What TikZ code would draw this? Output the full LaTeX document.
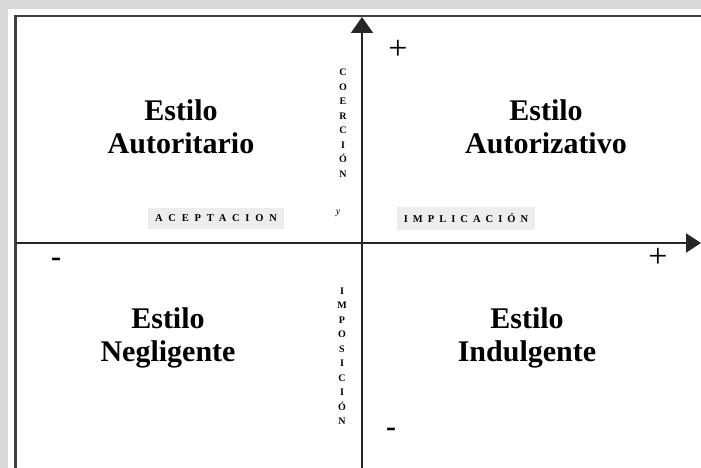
\documentclass[tikz,border=0pt]{standalone}
\usepackage{fontspec}
\setmainfont{Liberation Serif}
\usetikzlibrary{arrows.meta}

\tikzset{
  estilo/.style={font=\fontsize{30}{33}\selectfont\bfseries, align=center},
  hlabel/.style={fill=gray!14, inner xsep=7pt, inner ysep=7pt, font=\fontsize{10.5}{10.5}\selectfont\bfseries\addfontfeature{LetterSpace=55}},
  vlabel/.style={align=center, inner sep=1pt, font=\fontsize{10}{14.5}\selectfont\bfseries},
  signo/.style={inner sep=0pt},
  eje/.style={line width=2pt, black!85}
}

\begin{document}
\begin{tikzpicture}[x=1pt,y=-1pt]

      \useasboundingbox (0,0) rectangle (701,468);
      \fill[white] (0,0) rectangle (701,468);
      \fill[gray!30] (0,0) rectangle (701,9);
      \fill[gray!30] (0,0) rectangle (8,468);
      \draw[black!75, line width=2.5pt] (15.5,468) -- (15.5,16) -- (701,16);

      \coordinate (top)    at (362,17);
      \coordinate (bottom) at (362,468);
      \coordinate (left)   at (16,243);
      \coordinate (right)  at (701,243);

      \draw[eje, -{Triangle[length=16pt,width=22pt]}] (bottom) -- (top);
      \draw[eje, -{Triangle[length=15pt,width=19pt]}] (left) -- (right);

      \begin{scope}[every node/.style={estilo}]
        \node (autoritario)  at (181,127) {Estilo\\Autoritario};
        \node (autorizativo) at (546,127) {Estilo\\Autorizativo};
        \node (negligente)   at (168,338) {Estilo\\Negligente};
        \node (indulgente)   at (527,338) {Estilo\\Indulgente};
      \end{scope}

      \node[hlabel] (aceptacion) at (216,218.5) {ACEPTACION};
      \node[hlabel, font=\fontsize{10.5}{10.5}\selectfont\bfseries\addfontfeature{LetterSpace=48}] (implicacion) at (466,218.5) {IMPLICACIÓN};
      \node[signo, font=\fontsize{10}{10}\selectfont\itshape] (y) at (338,213) {y};

      \node[vlabel] (coercion)  at (343,123) {C\\O\\E\\R\\C\\I\\Ó\\N};
      \node[vlabel] (imposicion) at (342,356) {I\\M\\P\\O\\S\\I\\C\\I\\Ó\\N};

      \begin{scope}[every node/.style={signo, font=\fontsize{34}{34}\selectfont}]
        \node (mas1) at (398,50)  {+};
        \node (mas2) at (658,258) {+};
      \end{scope}
      \begin{scope}[every node/.style={signo, font=\fontsize{30}{30}\selectfont\bfseries}]
        \node (menos1) at (56,262)  {-};
        \node (menos2) at (391,432) {-};
      \end{scope}

\end{tikzpicture}
\end{document}
